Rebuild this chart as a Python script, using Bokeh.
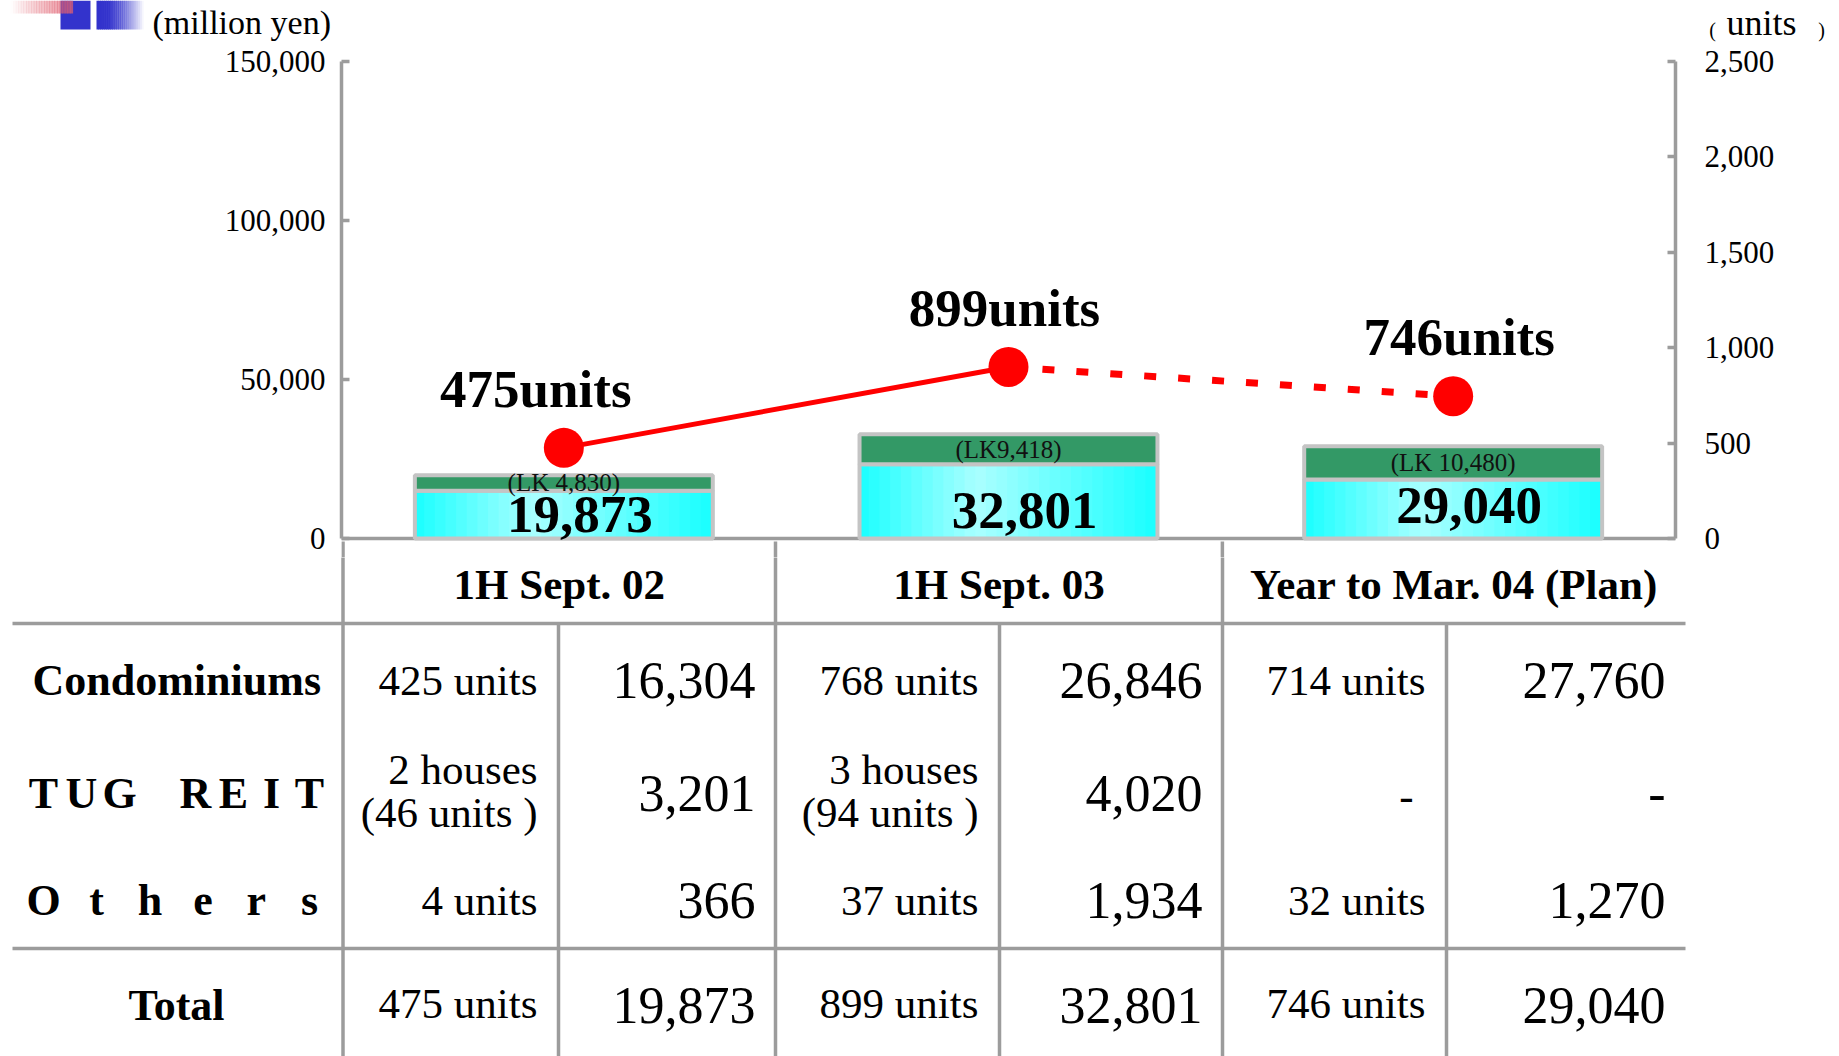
from bokeh.plotting import figure
from bokeh.layouts import column
from bokeh.models import (Range1d, FactorRange, LinearAxis, FixedTicker, Span,
                          ColumnDataSource, NumeralTickFormatter)
from bokeh.transform import dodge
from bokeh.core.properties import value
from bokeh.embed import file_html
from bokeh.resources import INLINE

# ---------------- data ----------------
categories = ["1H Sept. 02", "1H Sept. 03", "Year to Mar. 04 (Plan)"]
sales_total = [19873, 32801, 29040]          # million yen
lk_sales = [4830, 9418, 10480]               # LK portion, million yen
lk_labels = ["(LK 4,830)", "(LK9,418)", "(LK 10,480)"]
units_sold = [475, 899, 746]

yen_ticks = [0, 50000, 100000, 150000]
unit_ticks = [0, 500, 1000, 1500, 2000, 2500]

row_names = ["Condominiums", "TUG REIT", "Others", "Total"]
condo_units = [425, 768, 714]
condo_sales = [16304, 26846, 27760]
reit_houses = [2, 3, None]
reit_units = [46, 94, None]
reit_sales = [3201, 4020, None]
other_units = [4, 37, 32]
other_sales = [366, 1934, 1270]

# ---------------- page geometry / style ----------------
W = 1839
HEAD_H = 42
CHART_BOTTOM = 557
PAGE_H = 1056
FRAME_L, FRAME_R, FRAME_T = 341, 1675, 61
ZERO_Y = 538

SERIF = value("Liberation Serif")
GRAY = "#9c9c9c"
RED = "#ff0000"
GREEN = "#339966"


def bare(fig):
    fig.grid.visible = False
    fig.outline_line_color = None
    fig.background_fill_color = "white"
    fig.border_fill_color = "white"
    fig.frame_align = False
    return fig


# ---------------- header strip: logo and unit captions ----------------
head = bare(figure(width=W, height=HEAD_H, x_range=Range1d(0, W), y_range=Range1d(HEAD_H, 0),
                   toolbar_location=None, output_backend="svg", min_border=0,
                   x_axis_location=None, y_axis_location=None))

head.quad(left=60, right=90, top=0, bottom=29, fill_color="#3333cc", line_color=None)
n = 24
for i in range(n):
    a = (i + 0.5) / n
    x0 = 96 + i * (143 - 96) / n
    head.quad(left=x0, right=x0 + (143 - 96) / n + 0.6, top=0, bottom=29,
              fill_color="#3333cc", fill_alpha=min(1.0, 1.35 * (1 - a)), line_color=None)
    x0 = 10 + i * (72 - 10) / n
    head.quad(left=x0, right=x0 + (72 - 10) / n + 0.6, top=0, bottom=13,
              fill_color="#e06070", fill_alpha=0.75 * a, line_color=None)

head.text(x=[152], y=[22], text=["(million yen)"], text_font=SERIF, text_font_size="34px",
          text_align="left", text_baseline="middle", text_color="black")
head.text(x=[1712, 1821], y=[29, 29], text=["(", ")"], text_font=SERIF, text_font_size="20px",
          text_align="center", text_baseline="middle", text_color="black")
head.text(x=[1726], y=[22], text=["units"], text_font=SERIF, text_font_size="36px",
          text_align="left", text_baseline="middle", text_color="black")

# ---------------- chart ----------------
px_per_yen = (ZERO_Y - FRAME_T) / yen_ticks[-1]
yen_start = -(CHART_BOTTOM - ZERO_Y) / px_per_yen
unit_start = yen_start * unit_ticks[-1] / yen_ticks[-1]

p = bare(figure(width=W, height=CHART_BOTTOM - HEAD_H,
                x_range=FactorRange(*categories), y_range=Range1d(yen_start, yen_ticks[-1]),
                toolbar_location=None, output_backend="svg",
                min_border_left=FRAME_L, min_border_right=W - FRAME_R,
                min_border_top=FRAME_T - HEAD_H, min_border_bottom=0,
                x_axis_location=None))

p.extra_y_ranges = {"units": Range1d(unit_start, unit_ticks[-1])}


def style_axis(ax, standoff):
    ax.axis_line_color = GRAY
    ax.axis_line_width = 3.5
    ax.major_tick_line_color = GRAY
    ax.major_tick_line_width = 3.5
    ax.major_tick_in = 8
    ax.major_tick_out = 0
    ax.minor_tick_line_color = None
    ax.major_label_text_font = "Liberation Serif"
    ax.major_label_text_font_size = "31px"
    ax.major_label_text_color = "black"
    ax.major_label_standoff = standoff
    ax.formatter = NumeralTickFormatter(format="0,0")


left = p.yaxis[0]
left.ticker = FixedTicker(ticks=yen_ticks)
left.bounds = (yen_ticks[0], yen_ticks[-1])
style_axis(left, 16)

right = LinearAxis(y_range_name="units", ticker=FixedTicker(ticks=unit_ticks),
                   bounds=(unit_ticks[0], unit_ticks[-1]))
style_axis(right, 29)
p.add_layout(right, "right")

base = [t - l for t, l in zip(sales_total, lk_sales)]
src = ColumnDataSource(dict(
    cat=categories,
    total=sales_total,
    base=base,
    lk_mid=[t - l / 2 for t, l in zip(sales_total, lk_sales)],
    lk_label=lk_labels,
    total_label=[f"{v:,}" for v in sales_total],
    units=units_sold,
    units_label=[f"{u}units" for u in units_sold],
    nudge=[-28, -4, 6],
    lift=[-24, -28, -33],
))

BW = 0.67
NS = 28
for k in range(NS):
    t = (k + 0.5) / NS
    m = 1 - abs(t - 0.4) / (0.4 if t < 0.4 else 0.6)
    r = int(25 + 145 * m)
    off = -BW / 2 + (k + 0.5) * BW / NS
    p.vbar(x=dodge("cat", off, range=p.x_range), top="base", bottom=0,
           width=BW / NS * 1.25, source=src,
           fill_color=f"#{r:02x}ffff", line_color=None)

p.vbar(x="cat", top="base", bottom=0, width=BW, source=src,
       fill_color=None, line_color="#c4c4c4", line_width=4)
p.vbar(x="cat", top="total", bottom="base", width=BW, source=src,
       fill_color=GREEN, line_color="#c4c4c4", line_width=4)

p.add_layout(Span(location=0, dimension="width", line_color=GRAY, line_width=3.5,
                  level="underlay"))

# table column dividers rising up to the baseline (just under the zero line)
stub_top = -(541 - ZERO_Y) / px_per_yen
for cat_i, off in [(0, -0.4966), (0, 0.476), (1, 0.481)]:
    stub = ColumnDataSource(dict(c=[categories[cat_i]], y0=[stub_top], y1=[yen_start]))
    p.segment(x0=dodge("c", off, range=p.x_range), y0="y0",
              x1=dodge("c", off, range=p.x_range), y1="y1", source=stub,
              line_color=GRAY, line_width=3.5)

p.text(x="cat", y="lk_mid", text="lk_label", source=src, text_font=SERIF,
       text_font_size="25px", text_align="center", text_baseline="middle", text_color="#111111")
p.text(x="cat", y=0, text="total_label", source=src, text_font=SERIF,
       text_font_size="53px", text_font_style="bold", text_align="center",
       text_baseline="middle", x_offset=16, y_offset="lift", text_color="black")

p.line(x=categories[:2], y=units_sold[:2], y_range_name="units", line_color=RED, line_width=5)
p.line(x=categories[1:], y=units_sold[1:], y_range_name="units", line_color=RED, line_width=7,
       line_dash="12 22")
p.scatter(x="cat", y="units", source=src, y_range_name="units", size=40,
          fill_color=RED, line_color=None)
p.text(x="cat", y="units", text="units_label", source=src, y_range_name="units",
       text_font=SERIF, text_font_size="53px", text_font_style="bold",
       text_align="center", text_baseline="middle", x_offset="nudge", y_offset=-59,
       text_color="black")

# ---------------- breakdown table ----------------
tb = bare(figure(width=W, height=PAGE_H - CHART_BOTTOM, x_range=Range1d(0, W),
                 y_range=Range1d(PAGE_H, CHART_BOTTOM), toolbar_location=None,
                 output_backend="svg", min_border=0,
                 x_axis_location=None, y_axis_location=None))

col_edges = [342.5, 775, 1222, 1685]
sub_edges = [558, 999, 1446]
tb.segment(x0=col_edges[:3], y0=[CHART_BOTTOM - 2] * 3, x1=col_edges[:3], y1=[PAGE_H] * 3,
           line_color=GRAY, line_width=3.5)
tb.segment(x0=sub_edges, y0=[623] * 3, x1=sub_edges, y1=[PAGE_H] * 3,
           line_color=GRAY, line_width=3.5)
tb.segment(x0=[12, 12], y0=[623, 948], x1=[col_edges[-1]] * 2, y1=[623, 948],
           line_color=GRAY, line_width=3.5)

heads_x = [(a + b) / 2 for a, b in zip(col_edges[:-1], col_edges[1:])]
tb.text(x=heads_x, y=[584] * 3, text=categories, text_font=SERIF, text_font_size="43px",
        text_font_style="bold", text_align="center", text_baseline="middle", text_color="black")

row_y = [680, 793, 900, 1005]
LABEL_L, LABEL_R = 32, 320


def spread(label, y, size):
    chars = list(label)
    step = (LABEL_R - LABEL_L - size * 0.5) / (len(chars) - 1)
    xs = [LABEL_L + size * 0.25 + i * step for i in range(len(chars))]
    keep = [i for i, c in enumerate(chars) if c != " "]
    tb.text(x=[xs[i] for i in keep], y=[y] * len(keep), text=[chars[i] for i in keep],
            text_font=SERIF, text_font_size=f"{size}px", text_font_style="bold",
            text_align="center", text_baseline="middle", text_color="black")


tb.text(x=[LABEL_L], y=[row_y[0]], text=[row_names[0]], text_font=SERIF, text_font_size="44px",
        text_font_style="bold", text_align="left", text_baseline="middle", text_color="black")
spread(row_names[1], row_y[1], 44)
spread(row_names[2], row_y[2], 44)
tb.text(x=[176], y=[row_y[3]], text=[row_names[3]], text_font=SERIF, text_font_size="44px",
        text_font_style="bold", text_align="center", text_baseline="middle", text_color="black")

units_right = [537, 978, 1425]
value_right = [755, 1202, 1665]


def cells(xs, ys, texts, size):
    tb.text(x=xs, y=ys, text=texts, text_font=SERIF, text_font_size=f"{size}px",
            text_align="right", text_baseline="middle", text_color="black")


def num(v):
    return "-" if v is None else f"{v:,}"


cells(units_right, [row_y[0]] * 3, [f"{u} units" for u in condo_units], 43)
cells(value_right, [row_y[0]] * 3, [num(v) for v in condo_sales], 52)

for k in range(3):
    if reit_houses[k] is None:
        cells([units_right[k] - 12], [row_y[1] + 2], ["-"], 43)
    else:
        cells([units_right[k]] * 2, [769, 812],
              [f"{reit_houses[k]} houses", f"({reit_units[k]} units )"], 43)
cells(value_right, [row_y[1]] * 3, [num(v) for v in reit_sales], 52)

cells(units_right, [row_y[2]] * 3, [f"{u} units" for u in other_units], 43)
cells(value_right, [row_y[2]] * 3, [num(v) for v in other_sales], 52)

cells(units_right, [row_y[3] - 2] * 3, [f"{u} units" for u in units_sold], 43)
cells(value_right, [row_y[3]] * 3, [num(v) for v in sales_total], 52)

layout = column(head, p, tb, spacing=0)
open("out.html", "w").write(file_html(layout, INLINE))
